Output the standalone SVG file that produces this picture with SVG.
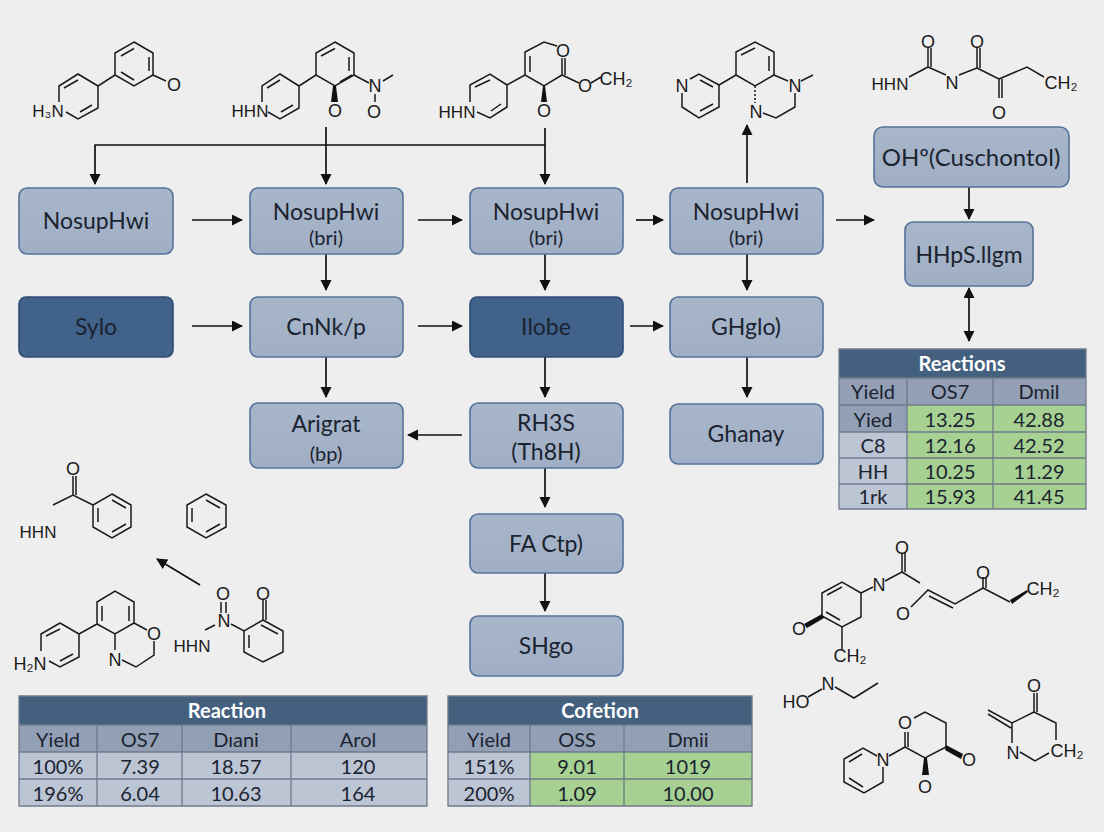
<svg xmlns="http://www.w3.org/2000/svg" width="1104" height="832" viewBox="0 0 1104 832">
<defs>
<linearGradient id="lg" x1="0" y1="0" x2="0" y2="1"><stop offset="0" stop-color="#a8b6ca"/><stop offset="1" stop-color="#a0afc5"/></linearGradient>
<marker id="a" markerUnits="userSpaceOnUse" markerWidth="12" markerHeight="12" refX="10" refY="5.5" orient="auto-start-reverse"><path d="M0 0L11 5.5L0 11Z" fill="#111"/></marker>
</defs>
<style>
.n{fill:url(#lg);stroke:#56749a;stroke-width:1.6}
.d{fill:#41628a;stroke:#2f4c74;stroke-width:1.6}
.t{font-family:Lato,"Open Sans",sans-serif;font-size:23px;fill:#1b2330;text-anchor:middle}
.s{font-size:20px}
.c{fill:none;stroke:#111;stroke-width:1.7;marker-end:url(#a)}
.m{fill:none;stroke:#1a1a1a;stroke-width:1.5}
.w{fill:#111;stroke:none}
.l{font-family:"Liberation Sans",Arial,sans-serif;font-size:18px;fill:#1a1a1a;text-anchor:middle}
.k{font-size:17px}
.b{font-family:Lato,"Open Sans",sans-serif;font-size:20px;fill:#1b2330;text-anchor:middle}
.h{font-family:Lato,"Open Sans",sans-serif;font-size:20px;font-weight:700;fill:#fff;text-anchor:middle}
.hd{fill:#44607f}.sub{fill:#929fb4}.cell{fill:#bcc5d4}.gr{fill:#a6d192}.ln{stroke:#6f7a8a;stroke-width:1.3;fill:none}
</style>
<rect width="1104" height="832" fill="#eeeeef"/>

<g id="connectors">
<path d="M545 145H95V184" class="c"/>
<path d="M326 127V184" class="c"/>
<path d="M545 128V184" class="c"/>
<path d="M192 220H242" class="c"/><path d="M418 220H462" class="c"/><path d="M636 220H663" class="c"/><path d="M836 220H874" class="c"/>
<path d="M192 326H242" class="c"/><path d="M418 326H462" class="c"/><path d="M630 326H663" class="c"/>
<path d="M326 254V290" class="c"/><path d="M326 357V397" class="c"/>
<path d="M545 254V290" class="c"/><path d="M545 357V397" class="c"/>
<path d="M747 254V290" class="c"/><path d="M747 357V397" class="c"/>
<path d="M545 468V507" class="c"/><path d="M545 573V611" class="c"/>
<path d="M462 435H408" class="c"/>
<path d="M747 183V125" class="c"/>
<path d="M969 187V219" class="c"/>
<path d="M969 288V341" class="c" style="marker-start:url(#a)"/>
<path d="M200 585L157 559" class="c"/>
</g>

<g id="n1"><rect x="19" y="188" width="154" height="66" rx="8" class="n"/><text x="96" y="229" class="t">NosupHwi</text></g>
<g id="n2"><rect x="250" y="188" width="153" height="66" rx="8" class="n"/><text x="326" y="220" class="t">NosupHwi</text><text x="326" y="245" class="t s">(bri)</text></g>
<g id="n3"><rect x="470" y="188" width="153" height="66" rx="8" class="n"/><text x="546" y="220" class="t">NosupHwi</text><text x="546" y="245" class="t s">(bri)</text></g>
<g id="n4"><rect x="670" y="188" width="153" height="66" rx="8" class="n"/><text x="746" y="220" class="t">NosupHwi</text><text x="746" y="245" class="t s">(bri)</text></g>
<g id="n5"><rect x="874" y="127" width="195" height="60" rx="9" class="n"/><text x="971" y="166" class="t" style="font-size:24px">OHº(Cuschontol)</text></g>
<g id="n6"><rect x="905" y="222" width="128" height="64" rx="8" class="n"/><text x="969" y="263" class="t">HHpS.llgm</text></g>
<g id="n7"><rect x="19" y="297" width="154" height="60" rx="7" class="d"/><text x="96" y="335" class="t">Sylo</text></g>
<g id="n8"><rect x="250" y="297" width="153" height="60" rx="8" class="n"/><text x="326" y="335" class="t">CnNk/p</text></g>
<g id="n9"><rect x="470" y="297" width="153" height="60" rx="7" class="d"/><text x="546" y="335" class="t">Ilobe</text></g>
<g id="n10"><rect x="670" y="297" width="153" height="60" rx="8" class="n"/><text x="746" y="335" class="t">GHglo)</text></g>
<g id="n11"><rect x="250" y="403" width="153" height="65" rx="8" class="n"/><text x="326" y="432" class="t">Arigrat</text><text x="326" y="461" class="t s">(bp)</text></g>
<g id="n12"><rect x="470" y="403" width="153" height="65" rx="8" class="n"/><text x="546" y="431" class="t">RH3S</text><text x="546" y="460" class="t">(Th8H)</text></g>
<g id="n13"><rect x="670" y="404" width="153" height="60" rx="8" class="n"/><text x="746" y="442" class="t">Ghanay</text></g>
<g id="n14"><rect x="470" y="514" width="153" height="59" rx="8" class="n"/><text x="546" y="552" class="t">FA Ctp)</text></g>
<g id="n15"><rect x="470" y="616" width="153" height="60" rx="8" class="n"/><text x="546" y="654" class="t">SHgo</text></g>

<g id="mol1">
<path class="m" d="M134 42L153 53V75L134 86L115 75V53ZM121 56L134 48.500M149 57V71M121 72L134 80M115 75L98 86V108L78 119L66 112M59 102V86L78 74L98 86M64 88L78 80M92 105L80 112M153 75L166 81"/>
<text class="l" x="174" y="91">O</text><text class="l k" x="48" y="117">H₃N</text>
</g>
<g id="mol2">
<path class="m" d="M335 42L354 53V75L335 86L316 75V53ZM321 56L335 48.500M349 57V71M340 82L352 75M316 75L299 86V108L280 119L268 112M262 102V86L280 74L299 86M267 88L280 80M293 105L281 112M354 75L369 83M375 94V102M383 81L393 75" />
<path class="w" d="M333 86h3l2 16h-7z"/>
<text class="l" x="335" y="117">O</text><text class="l" x="375" y="92">N</text><text class="l" x="374" y="118">O</text><text class="l k" x="250" y="117">HHN</text>
</g>
<g id="mol3">
<path class="m" d="M557 46L544 42L525 52V75L544 86L562 75V58M565 75V58M530 56V72M525 75L507 85V107L490 118L477 112M470 102V85L490 74L507 85M475 87L490 80M501 104L491 111M562 75L579 83M591 83L601 77"/>
<path class="w" d="M543 86h2l2 16h-6z"/>
<text class="l" x="563" y="57">O</text><text class="l" x="544" y="117">O</text><text class="l" x="585" y="92">O</text><text class="l" x="616" y="85">CH₂</text><text class="l k" x="457" y="118">HHN</text>
</g>
<g id="mol4">
<path class="m" d="M755 42L774 52V75L755 86L736 75V52ZM741 55L755 48M769 56V71M774 75L788 81M736 75L719 85V107L699 118L682 107V93M690 79L699 74L719 85M700 80L713 87M713 104L700 111M795 93V107L776 118L763 113M801 81L813 75" />
<path class="m" d="M755 86V103" stroke-dasharray="2 2"/>
<text class="l" x="682" y="92">N</text><text class="l" x="795" y="92">N</text><text class="l" x="756" y="118">N</text>
</g>
<g id="mol5">
<path class="m" d="M909 77L928 67V48M931 67V48M928 67L946 75M959 75L977 68V48M980 68V48M977 68L999 79V98M1002 79V98M999 79L1027 67L1044 77"/>
<text class="l" x="928" y="48">O</text><text class="l" x="977" y="48">O</text><text class="l" x="952" y="89">N</text><text class="l" x="999" y="119">O</text><text class="l k" x="890" y="90">HHN</text><text class="l" x="1061" y="89">CH₂</text>
</g>
<g id="mol6">
<path class="m" d="M73 476V495M76 476V495M53 505L73 495L93 505M112 494L131 505V527L112 538L93 527V505ZM112 500L126 508M126 524L112 532M98 522V508"/>
<text class="l" x="73" y="475">O</text><text class="l k" x="38" y="538">HHN</text>
</g>
<g id="mol7"><path class="m" d="M206 494L226 505V527L206 538L187 527V505ZM206 500L220 508M220 524L206 532M192 522V508"/></g>
<g id="mol8">
<path class="m" d="M60 623L79 634V657L60 667L49 661M41 651V634L60 623M46 636L60 629M73 654L60 661M79 634L97 624V602L115 591L134 602V623L115 634L97 624M102 621V606M129 621V606M134 623L147 630M154 641V655L136 667L122 660M115 634V650"/>
<text class="l" x="154" y="640">O</text><text class="l" x="115" y="666">N</text><text class="l" x="30" y="670">H₂N</text>
</g>
<g id="mol9">
<path class="m" d="M221 602V613M226 602V613M205 630L215 625M231 624L244 631L263 620V600M266 620V600M263 620L283 631V652L263 662L244 652V631M249 635V648M261 625L278 634"/>
<text class="l" x="223" y="600">O</text><text class="l" x="224" y="627">N</text><text class="l" x="263" y="600">O</text><text class="l k" x="192" y="652">HHN</text>
</g>
<g id="mol10">
<path class="m" d="M822 593L842 582L861 593V617L842 627L822 616ZM827 595L842 587M826 612L840 620M842 627V649M861 593L873 587M885 581L902 572V553M905 572V553M902 572L920 583M911 607L928 590L955 604L983 588V577M986 588V577M929 596L953 608M983 588L1010 602"/>
<path class="w" d="M822 614L824 618L807 628L804 624ZM1010 600L1027 590L1028 592L1012 604Z"/>
<text class="l" x="799" y="635">O</text><text class="l" x="879" y="591">N</text><text class="l" x="902" y="554">O</text><text class="l" x="903" y="620">O</text><text class="l" x="983" y="579">O</text><text class="l" x="850" y="662">CH₂</text><text class="l" x="1043" y="595">CH₂</text>
</g>
<g id="mol11">
<path class="m" d="M808 697L822 689M835 687L854 698L878 683"/>
<text class="l" x="796" y="708">HO</text><text class="l" x="828" y="690">N</text>
</g>
<g id="mol12">
<path class="m" d="M914 718L925 712L946 723V747L925 758L905 747V732M908 747V732M905 747L889 756M877 756L863 748L844 759V782L864 793L883 782V767M849 762L862 754M849 778L863 787"/>
<path class="w" d="M946 745L963 754L961 759L945 750ZM924 758h3l2 17h-7z"/>
<text class="l" x="905" y="729">O</text><text class="l" x="969" y="766">O</text><text class="l" x="925" y="793">O</text><text class="l" x="883" y="766">N</text>
</g>
<g id="mol13">
<path class="m" d="M1034 693V712M1037 693V712M1034 712L1012 723L988 710M1011 728L988 714M1034 712L1056 723V740M1012 723V743M1020 752L1035 761L1049 753"/>
<text class="l" x="1034" y="692">O</text><text class="l" x="1013" y="759">N</text><text class="l" x="1067" y="757">CH₂</text>
</g>

<g id="table-right">
<rect x="839" y="349" width="247" height="29" class="hd"/>
<rect x="839" y="378" width="247" height="27" class="sub"/>
<rect x="839" y="405" width="68" height="27" class="sub"/>
<rect x="839" y="432" width="68" height="77" class="cell"/>
<rect x="907" y="405" width="179" height="104" class="gr"/>
<path class="ln" d="M839 349H1086V509H839ZM839 378H1086M839 405H1086M839 432H1086M839 458H1086M839 484H1086M907 378V509M993 378V509"/>
<text class="h" x="962" y="371">Reactions</text>
<text class="b" x="873" y="399">Yield</text><text class="b" x="950" y="399">OS7</text><text class="b" x="1039" y="399">Dmil</text>
<text class="b" x="873" y="427">Yied</text><text class="b" x="950" y="427">13.25</text><text class="b" x="1039" y="427">42.88</text>
<text class="b" x="873" y="453">C8</text><text class="b" x="950" y="453">12.16</text><text class="b" x="1039" y="453">42.52</text>
<text class="b" x="873" y="479">HH</text><text class="b" x="950" y="479">10.25</text><text class="b" x="1039" y="479">11.29</text>
<text class="b" x="873" y="504">1rk</text><text class="b" x="950" y="504">15.93</text><text class="b" x="1039" y="504">41.45</text>
</g>
<g id="table-reaction">
<rect x="19" y="696" width="408" height="29" class="hd"/>
<rect x="19" y="725" width="408" height="27" class="sub"/>
<rect x="19" y="752" width="408" height="54" class="cell"/>
<path class="ln" d="M19 696H427V806H19ZM19 725H427M19 752H427M19 779H427M97 725V806M182 725V806M291 725V806"/>
<text class="h" x="227" y="718">Reaction</text>
<text class="b" x="58" y="747">Yield</text><text class="b" x="140" y="747">OS7</text><text class="b" x="236" y="747">Dıani</text><text class="b" x="358" y="747">Arol</text>
<text class="b" x="58" y="774">100%</text><text class="b" x="140" y="774">7.39</text><text class="b" x="236" y="774">18.57</text><text class="b" x="358" y="774">120</text>
<text class="b" x="58" y="801">196%</text><text class="b" x="140" y="801">6.04</text><text class="b" x="236" y="801">10.63</text><text class="b" x="358" y="801">164</text>
</g>
<g id="table-cofetion">
<rect x="448" y="696" width="304" height="29" class="hd"/>
<rect x="448" y="725" width="304" height="27" class="sub"/>
<rect x="448" y="752" width="82" height="54" class="cell"/>
<rect x="530" y="752" width="222" height="54" class="gr"/>
<path class="ln" d="M448 696H752V806H448ZM448 725H752M448 752H752M448 779H752M530 725V806M624 725V806"/>
<text class="h" x="600" y="718">Cofetion</text>
<text class="b" x="489" y="747">Yield</text><text class="b" x="577" y="747">OSS</text><text class="b" x="688" y="747">Dmii</text>
<text class="b" x="489" y="774">151%</text><text class="b" x="577" y="774">9.01</text><text class="b" x="688" y="774">1019</text>
<text class="b" x="489" y="801">200%</text><text class="b" x="577" y="801">1.09</text><text class="b" x="688" y="801">10.00</text>
</g>
</svg>
